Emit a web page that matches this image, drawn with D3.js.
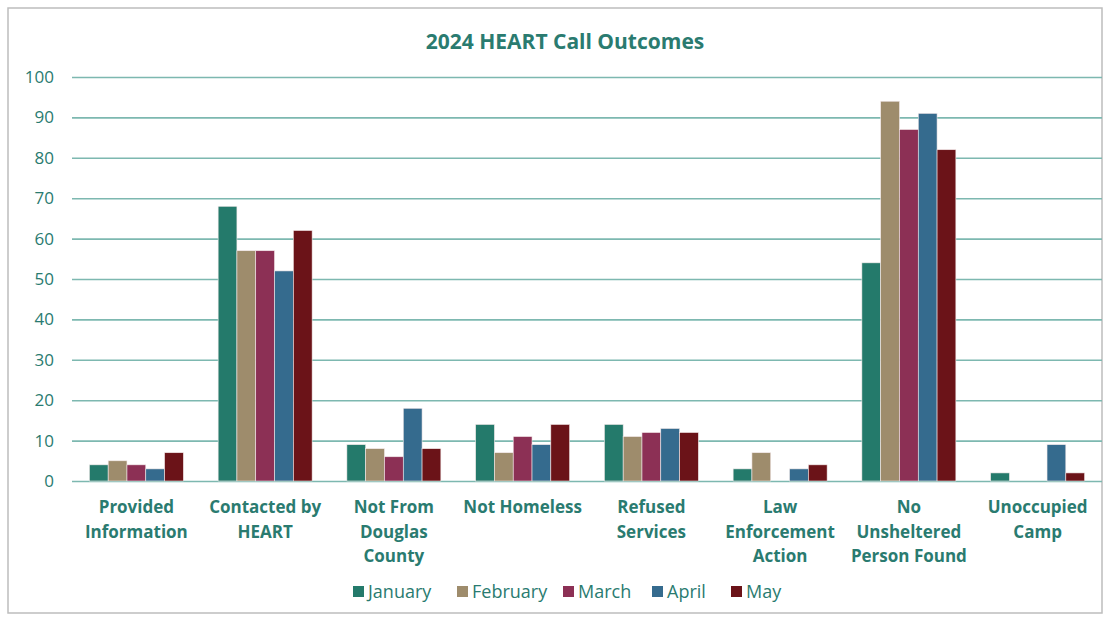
<!DOCTYPE html>
<html><head><meta charset="utf-8">
<script src="https://cdn.jsdelivr.net/npm/d3@7"></script>
<style>body{margin:0;background:#fff;}svg{display:block;}</style>
</head><body>
<svg id="c" width="1111" height="621"></svg>
<script>
const categories = [
  ["Provided","Information"],
  ["Contacted by","HEART"],
  ["Not From","Douglas","County"],
  ["Not Homeless"],
  ["Refused","Services"],
  ["Law","Enforcement","Action"],
  ["No","Unsheltered","Person Found"],
  ["Unoccupied","Camp"]
];
const months = ["January","February","March","April","May"];
const january  = [4, 68, 9, 14, 14, 3, 54, 2];
const february = [5, 57, 8, 7, 11, 7, 94, 0];
const march    = [4, 57, 6, 11, 12, 0, 87, 0];
const april    = [3, 52, 18, 9, 13, 3, 91, 9];
const may      = [7, 62, 8, 14, 12, 4, 82, 2];
const yTicks = [0,10,20,30,40,50,60,70,80,90,100];
const colors = ["#247a6b","#9e8c6c","#8c3055","#356b8e","#6b1318"];
const series = [january, february, march, april, may];

const svg = d3.select("#c");
const font = "'Liberation Sans Narrow','Open Sans',sans-serif";
const textColor = "#2a7b70";

// frame
svg.append("rect").attr("x",8).attr("y",8).attr("width",1094).attr("height",605)
  .attr("fill","#fff").attr("stroke","#bdbdbd").attr("stroke-width",1.5);

const m = {left:72, right:1102, top:77, bottom:481};
const x = d3.scaleBand().domain(d3.range(categories.length)).range([m.left, m.right]).paddingInner(0.27).paddingOuter(0.135);
const xs = d3.scaleBand().domain(d3.range(months.length)).range([0, x.bandwidth()]);
const y = d3.scaleLinear().domain([0,100]).range([m.bottom, m.top]);

svg.append("text").attr("x",565).attr("y",49).attr("text-anchor","middle")
  .attr("font-family",font).attr("font-weight","bold").attr("font-size",21)
  .attr("fill",textColor).text("2024 HEART Call Outcomes");

// grid
const yAxis = d3.axisLeft(y).tickValues(yTicks).tickSize(-(m.right - m.left)).tickPadding(18);
const gy = svg.append("g").attr("transform",`translate(${m.left},0)`).call(yAxis);
gy.select(".domain").remove();
gy.selectAll(".tick line").attr("stroke","#7db8b0").attr("stroke-width",1.6);
gy.selectAll(".tick text").attr("font-family",font).attr("font-size",17).attr("fill",textColor);

// bars
series.forEach((vals, si) => {
  svg.append("g").selectAll("rect").data(vals).join("rect")
    .attr("x",(d,i)=>x(i)+xs(si))
    .attr("y",d=>y(d))
    .attr("width",xs.bandwidth())
    .attr("height",d=>y(0)-y(d))
    .attr("fill",colors[si])
    .attr("stroke","#f3e9ea").attr("stroke-width",0.6);
});

// x labels
const xl = svg.append("g");
categories.forEach((lines,i)=>{
  const t = xl.append("text").attr("text-anchor","middle")
    .attr("font-family",font).attr("font-weight","bold").attr("font-size",17)
    .attr("fill",textColor);
  lines.forEach((ln,j)=>{
    t.append("tspan").attr("x",x(i)+x.bandwidth()/2).attr("y",513+j*24.5).text(ln);
  });
});

// legend
const legendX = [353,457,563,652,731];
const lg = svg.append("g");
months.forEach((mo,i)=>{
  lg.append("rect").attr("x",legendX[i]).attr("y",586).attr("width",11).attr("height",11).attr("fill",colors[i]);
  lg.append("text").attr("x",legendX[i]+15).attr("y",598).attr("font-family",font).attr("font-size",18)
    .attr("fill",textColor).text(mo);
});
</script>
</body></html>
